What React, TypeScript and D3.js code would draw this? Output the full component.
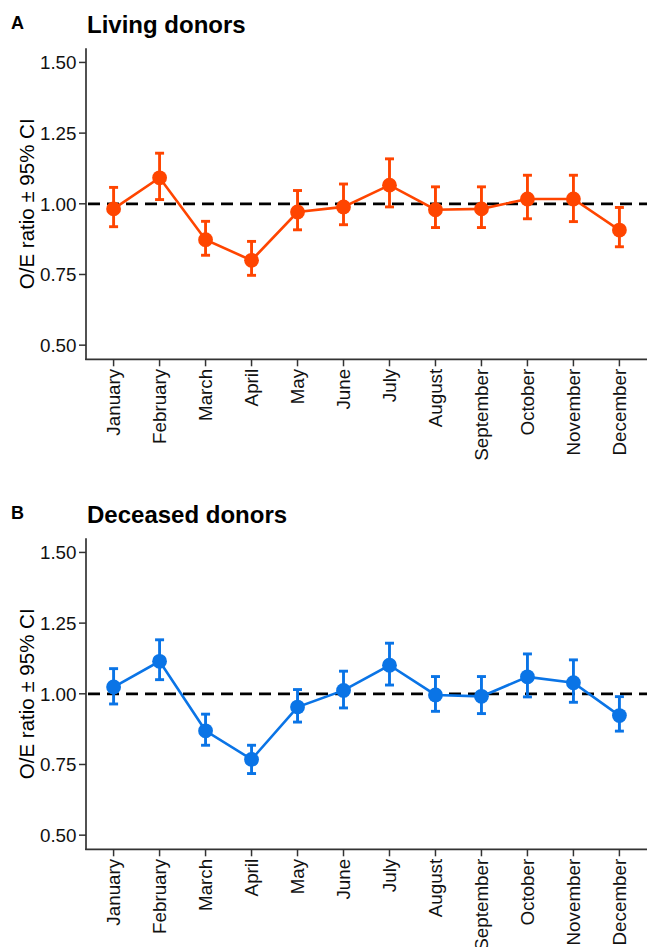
import React from "react";
import * as d3 from "d3";

const months = ["January","February","March","April","May","June","July","August","September","October","November","December"];

const livingEst = [0.982, 1.092, 0.873, 0.800, 0.971, 0.989, 1.066, 0.979, 0.982, 1.017, 1.017, 0.907];
const livingLo = [0.919, 1.015, 0.818, 0.747, 0.908, 0.926, 0.989, 0.916, 0.916, 0.947, 0.937, 0.848];
const livingHi = [1.058, 1.179, 0.938, 0.867, 1.047, 1.070, 1.159, 1.060, 1.060, 1.101, 1.101, 0.987];

const deceasedEst = [1.024, 1.115, 0.869, 0.768, 0.953, 1.012, 1.101, 0.996, 0.991, 1.060, 1.039, 0.923];
const deceasedLo = [0.964, 1.050, 0.818, 0.718, 0.900, 0.950, 1.031, 0.938, 0.930, 0.989, 0.970, 0.868];
const deceasedHi = [1.089, 1.191, 0.928, 0.818, 1.015, 1.080, 1.179, 1.061, 1.061, 1.141, 1.120, 0.990];

const yTicks = [0.5, 0.75, 1.0, 1.25, 1.5];
const panelLabels = ["A", "B"];
const panelTitles = ["Living donors", "Deceased donors"];
const colors = ["#FF4500", "#0A74E6"];
const yTitle = "O/E ratio \u00b1 95% CI";

const W = 648;
const H = 947;
const FONT = "Liberation Sans, Arial, Helvetica, sans-serif";

function Panel({ offset, idx, est, lo, hi }: { offset: number; idx: number; est: number[]; lo: number[]; hi: number[] }) {
  const left = 86;
  const right = 647;
  const top = 48.3;
  const bottom = 359.3;
  const x = d3.scalePoint<string>().domain(months).range([left, right]).padding(0.6);
  const y = d3.scaleLinear().domain([0.45, 1.55]).range([bottom, top]);
  const color = colors[idx];
  const data = months.map((m, i) => ({ m, e: est[i], l: lo[i], h: hi[i] }));
  const line = d3.line<{ m: string; e: number }>().x(d => x(d.m)!).y(d => y(d.e));
  const capW = 4.5;
  return (
    <g transform={`translate(0,${offset})`}>
      <text x={11} y={28.5} fontFamily={FONT} fontWeight="bold" fontSize={18} fill="#000">{panelLabels[idx]}</text>
      <text x={87} y={33.3} fontFamily={FONT} fontWeight="bold" fontSize={24} fill="#000">{panelTitles[idx]}</text>
      <line x1={left} x2={right} y1={y(1)} y2={y(1)} stroke="#000" strokeWidth={2.7} strokeDasharray="12,7" strokeDashoffset={-2} />
      <path d={line(data) || ""} fill="none" stroke={color} strokeWidth={2.6} />
      {data.map(d => (
        <g key={d.m} stroke={color} strokeWidth={2.9}>
          <line x1={x(d.m)} x2={x(d.m)} y1={y(d.l)} y2={y(d.h)} />
          <line x1={x(d.m)! - capW} x2={x(d.m)! + capW} y1={y(d.l)} y2={y(d.l)} />
          <line x1={x(d.m)! - capW} x2={x(d.m)! + capW} y1={y(d.h)} y2={y(d.h)} />
        </g>
      ))}
      {data.map(d => (
        <circle key={d.m} cx={x(d.m)} cy={y(d.e)} r={7.4} fill={color} />
      ))}
      <line x1={left} x2={left} y1={top} y2={bottom + 0.8} stroke="#333" strokeWidth={1.7} />
      <line x1={left - 0.8} x2={right} y1={bottom} y2={bottom} stroke="#333" strokeWidth={1.7} />
      {yTicks.map(t => (
        <g key={t}>
          <line x1={left - 7} x2={left} y1={y(t)} y2={y(t)} stroke="#333" strokeWidth={1.5} />
          <text x={left - 9.5} y={y(t)} dy="0.36em" textAnchor="end" fontFamily={FONT} fontSize={18.8} fill="#111">{d3.format(".2f")(t)}</text>
        </g>
      ))}
      {months.map(m => (
        <g key={m}>
          <line x1={x(m)} x2={x(m)} y1={bottom} y2={bottom + 7} stroke="#333" strokeWidth={1.5} />
          <text transform={`translate(${x(m)},${bottom + 9.5}) rotate(-90)`} dy="0.36em" textAnchor="end" fontFamily={FONT} fontSize={18.8} fill="#111">{m}</text>
        </g>
      ))}
      <text transform={`translate(34,${(top + bottom) / 2}) rotate(-90)`} textAnchor="middle" fontFamily={FONT} fontSize={20.5} fill="#000">{yTitle}</text>
    </g>
  );
}

export default function App() {
  return (
    <svg width={W} height={H} viewBox={`0 0 ${W} ${H}`} style={{ position: "absolute", left: 0, top: 0, background: "#fff" }}>
      <rect width={W} height={H} fill="#fff" />
      <Panel offset={0} idx={0} est={livingEst} lo={livingLo} hi={livingHi} />
      <Panel offset={490} idx={1} est={deceasedEst} lo={deceasedLo} hi={deceasedHi} />
    </svg>
  );
}
